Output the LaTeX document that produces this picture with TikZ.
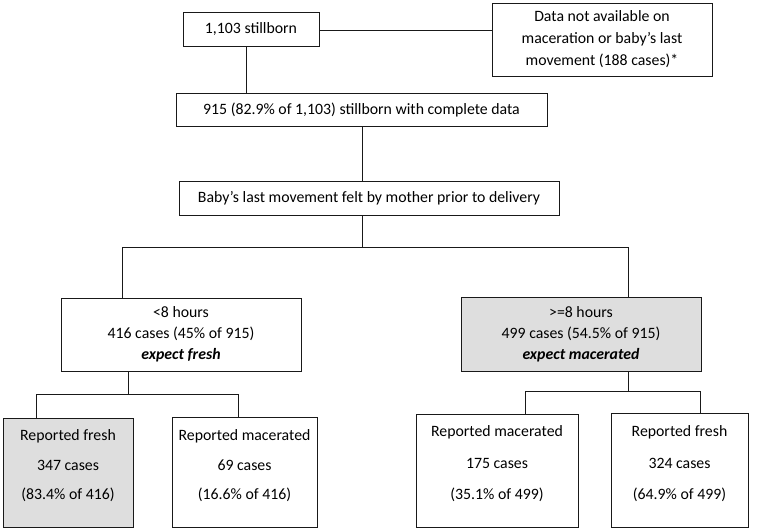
\documentclass[tikz,border=0pt]{standalone}
\usepackage{fontspec}
\setmainfont{Carlito}
\definecolor{boxgray}{RGB}{222,222,222}
\definecolor{linecol}{RGB}{25,25,25}
\begin{document}
\begin{tikzpicture}[x=1pt,y=-1pt,
  font=\fontsize{15.8}{21}\selectfont,
  flowbox/.style 2 args={draw=linecol,line width=1pt,minimum width=#1,minimum height=#2,inner sep=0pt,align=center},
  lbl/.style={anchor=base,inner sep=0pt},
  conn/.style={draw=linecol,line width=1pt}]
\useasboundingbox (0,0) rectangle (760,530);
% boxes
\node[flowbox={136pt}{34pt}] (n1) at (251,29) {1,103 stillborn};
\node[flowbox={220pt}{73pt},font=\fontsize{15.8}{22}\selectfont] (data) at (602,39.5) {Data not available on\\maceration or baby’s last\\movement (188 cases)*};
\node[flowbox={371pt}{33pt}] (n915) at (361.5,109.5) {915 (82.9\% of 1,103) stillborn with complete data};
\node[flowbox={380pt}{34pt}] (baby) at (369,198) {Baby’s last movement felt by mother prior to delivery};
\node[flowbox={240pt}{73pt}] (lbox) at (181,334.5) {<8 hours\\416 cases (45\% of 915)\\\textbf{\textit{expect fresh}}};
\node[flowbox={240pt}{74pt},fill=boxgray] (rbox) at (581,334) {>=8 hours\\499 cases (54.5\% of 915)\\\textbf{\textit{expect macerated}}};
\node[flowbox={130pt}{109pt},fill=boxgray] (bA) at (68,472.5) {};
\node[flowbox={145pt}{110pt}] (bB) at (244.5,472) {};
\node[flowbox={162pt}{113pt}] (bC) at (497,470.5) {};
\node[flowbox={137pt}{114pt}] (bD) at (679.5,470) {};
% texts of bottom boxes
\node[lbl] (tA1) at (68,440) {Reported fresh};
\node[lbl] (tA2) at (68,470) {347 cases};
\node[lbl] (tA3) at (68,499) {(83.4\% of 416)};
\node[lbl] (tB1) at (244.5,440) {Reported macerated};
\node[lbl] (tB2) at (244.5,470) {69 cases};
\node[lbl] (tB3) at (244.5,499) {(16.6\% of 416)};
\node[lbl] (tC1) at (497,436) {Reported macerated};
\node[lbl] (tC2) at (497,468) {175 cases};
\node[lbl] (tC3) at (497,499) {(35.1\% of 499)};
\node[lbl] (tD1) at (679.5,436) {Reported fresh};
\node[lbl] (tD2) at (679.5,468) {324 cases};
\node[lbl] (tD3) at (679.5,499) {(64.9\% of 499)};
% connectors
\coordinate (v1) at (246,0);
\coordinate (h1) at (0,30);
\draw[conn] (v1 |- n1.south) -- (v1 |- n915.north);
\draw[conn] (n1.east |- h1) -- (data.west |- h1);
\coordinate (v2) at (362,247);
\draw[conn] (v2 |- n915.south) -- (v2 |- baby.north);
\draw[conn] (v2 |- baby.south) -- (v2);
\coordinate (hl) at (122,247);
\coordinate (hr) at (628,247);
\draw[conn] (hl |- lbox.north) -- (hl) -- (hr) -- (hr |- rbox.north);
\coordinate (lv) at (128,394);
\draw[conn] (lv |- lbox.south) -- (lv);
\coordinate (la) at (36,394);
\coordinate (lb) at (238,394);
\draw[conn] (la |- bA.north) -- (la) -- (lb) -- (lb |- bB.north);
\coordinate (rv) at (628,391);
\draw[conn] (rv |- rbox.south) -- (rv);
\coordinate (ra) at (525,391);
\coordinate (rb) at (700,391);
\draw[conn] (ra |- bC.north) -- (ra) -- (rb) -- (rb |- bD.north);
\end{tikzpicture}
\end{document}
